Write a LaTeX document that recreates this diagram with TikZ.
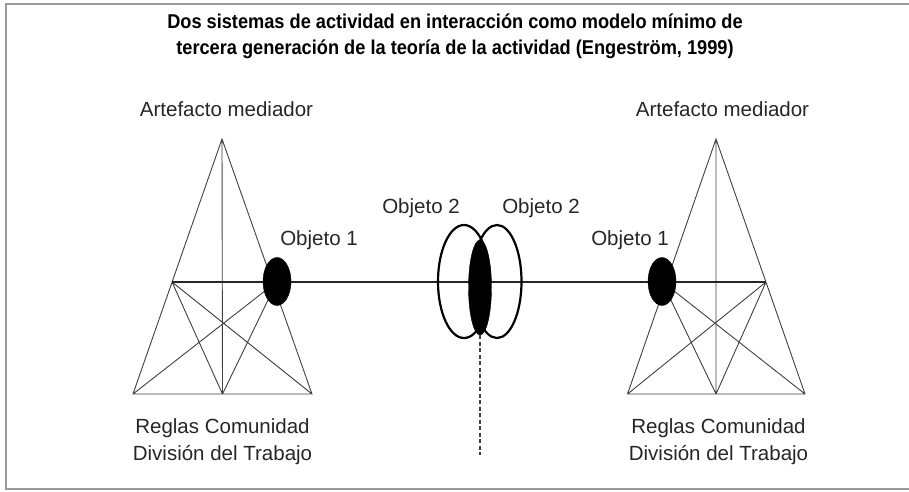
\documentclass[tikz,border=0pt]{standalone}
\usepackage{fontspec}
\setmainfont{Liberation Sans}
\usetikzlibrary{shapes.geometric}

\begin{document}
\begin{tikzpicture}[x=1pt, y=-1pt,
    edge/.style={draw=black!75, line width=0.9pt},
    link/.style={draw=black!85, line width=1.4pt},
    objfill/.style={ellipse, fill=black, draw=black, inner sep=0pt},
    objring/.style={ellipse, draw=black, line width=2.2pt, inner sep=0pt},
    lbl/.style={text=black!85, font=\fontsize{20.5}{24}\selectfont, inner sep=0pt}]
    \useasboundingbox (0,0) rectangle (909,491);
    \draw[black!40, line width=2pt] (912,4) -- (6,4) -- (6,489) -- (912,489);
    \node[font=\bfseries\fontsize{20}{26}\selectfont, align=center, xscale=0.91, inner sep=0pt] (title) at (455,36)
        {Dos sistemas de actividad en interacción como modelo mínimo de\\tercera generación de la teoría de la actividad (Engeström, 1999)};
    \coordinate (LA) at (222,139);
    \coordinate (LL) at (133,394);
    \coordinate (LM) at (222.5,394);
    \coordinate (LR) at (312,394);
    \coordinate (LS) at (172,282);
    \coordinate (LO) at (277,281.5);
    \coordinate (RA) at (716,139);
    \coordinate (RL) at (627.5,394);
    \coordinate (RM) at (716,394);
    \coordinate (RR) at (805,394);
    \coordinate (RS) at (766,282);
    \coordinate (RO) at (662,281.5);
    \draw[edge] (LA) -- (LL) -- (LR) -- cycle (LA) -- (LM) (LS) -- (LM) (LS) -- (LR) (LO) -- (LM) (LO) -- (LL);
    \draw[edge] (RA) -- (RL) -- (RR) -- cycle (RA) -- (RM) (RS) -- (RM) (RS) -- (RL) (RO) -- (RM) (RO) -- (RR);
    \draw[link] (LS) -- (RS);
    \node[objring, minimum width=52, minimum height=113] (o2l) at (464,281.5) {};
    \node[objring, minimum width=49, minimum height=113] (o2r) at (497,281.5) {};
    \node[objfill, minimum width=23, minimum height=95] (o2) at (480,287.5) {};
    \node[objfill, minimum width=28, minimum height=48] (o1l) at (LO) {};
    \node[objfill, minimum width=28, minimum height=48] (o1r) at (RO) {};
    \coordinate (floor) at (480,455);
    \draw[black!75, line width=1.5pt, dash pattern=on 4pt off 2.5pt] (o2.south) -- (floor);
    \node[lbl] (artl) at (226.5,109) {Artefacto mediador};
    \node[lbl] (artr) at (722.5,109) {Artefacto mediador};
    \node[lbl] (obj1l) at (319,240) {Objeto 1};
    \node[lbl] (obj1r) at (630,240) {Objeto 1};
    \node[lbl] (obj2l) at (421,208) {Objeto 2};
    \node[lbl] (obj2r) at (541,208) {Objeto 2};
    \node[lbl, align=center, font=\fontsize{20.5}{27}\selectfont] (basel) at (222.5,441.5) {Reglas Comunidad\\División del Trabajo};
    \node[lbl, align=center, font=\fontsize{20.5}{27}\selectfont] (baser) at (718.5,441.5) {Reglas Comunidad\\División del Trabajo};
\end{tikzpicture}
\end{document}
